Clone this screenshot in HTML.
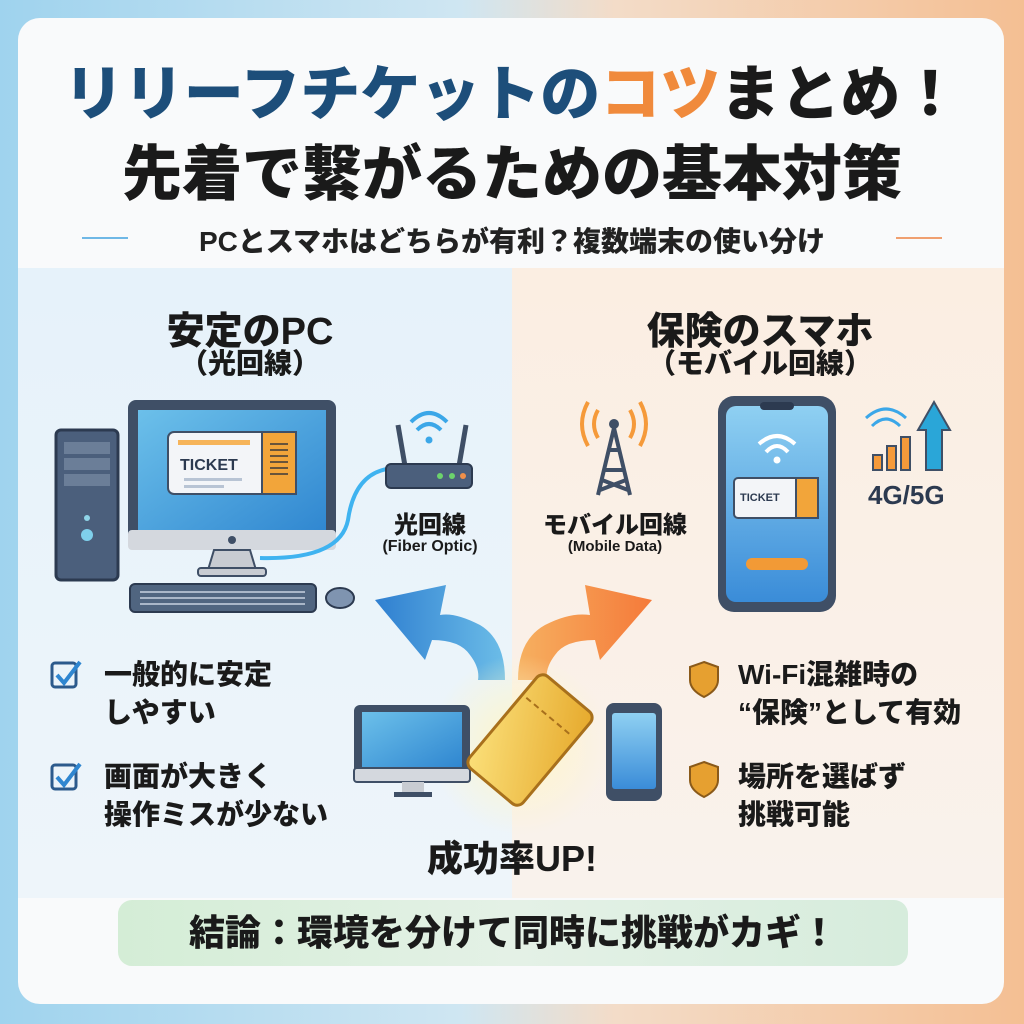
<!DOCTYPE html>
<html><head><meta charset="utf-8"><style>
*{margin:0;padding:0;box-sizing:border-box}
body{width:1024px;height:1024px;overflow:hidden;background:linear-gradient(90deg,#9fd3ee 0%,#cfe6f2 45%,#f3dcc8 60%,#f4bf93 100%);font-family:"Liberation Sans","Noto Sans CJK JP",sans-serif;position:relative}
.card{position:absolute;left:18px;top:18px;width:986px;height:986px;border-radius:22px;background:#f9fafb;overflow:hidden}
.t{position:absolute;font-weight:900;white-space:nowrap;color:#1a1a1a}
.c{text-align:center}
</style></head><body>
<div class="card">
<div style="position:absolute;left:0;top:250px;width:494px;height:630px;background:linear-gradient(180deg,#e6f2fa,#eef5fa)"></div>
<div style="position:absolute;left:494px;top:250px;width:492px;height:630px;background:linear-gradient(180deg,#fbeee2,#f9f2ec)"></div>
</div>
<svg width="1024" height="1024" style="position:absolute;left:0;top:0">
<defs>
<linearGradient id="scr" x1="0" y1="0" x2="1" y2="1"><stop offset="0" stop-color="#6cc0ea"/><stop offset="1" stop-color="#2f86d0"/></linearGradient>
<linearGradient id="ph" x1="0" y1="0" x2="0" y2="1"><stop offset="0" stop-color="#8fd0f2"/><stop offset="1" stop-color="#3a8cd8"/></linearGradient>
<linearGradient id="gold" x1="0" y1="0" x2="1" y2="1"><stop offset="0" stop-color="#fbe07a"/><stop offset="1" stop-color="#e6a92c"/></linearGradient>
<linearGradient id="ba" x1="0" y1="0" x2="1" y2="0"><stop offset="0" stop-color="#2f7fd0"/><stop offset="1" stop-color="#6cbde8"/></linearGradient>
<linearGradient id="oa" x1="0" y1="0" x2="1" y2="0"><stop offset="0" stop-color="#f6b060"/><stop offset="1" stop-color="#f57a3a"/></linearGradient>
<radialGradient id="glow"><stop offset="0" stop-color="#fff6c8"/><stop offset="1" stop-color="#fff6c8" stop-opacity="0"/></radialGradient>
</defs>
<line x1="82" y1="238" x2="128" y2="238" stroke="#6fb8e6" stroke-width="2"/>
<line x1="896" y1="238" x2="942" y2="238" stroke="#f0a070" stroke-width="2"/>
<!-- tower PC -->
<rect x="56" y="430" width="62" height="150" rx="5" fill="#4b5f7c" stroke="#2c3a50" stroke-width="3"/>
<rect x="64" y="442" width="46" height="12" fill="#6b7e98"/><rect x="64" y="458" width="46" height="12" fill="#6b7e98"/><rect x="64" y="474" width="46" height="12" fill="#6b7e98"/>
<circle cx="87" cy="518" r="3" fill="#8fd4e8"/><circle cx="87" cy="535" r="6" fill="#7fd0ec"/>
<!-- monitor -->
<rect x="128" y="400" width="208" height="150" rx="8" fill="#3f4f66"/>
<rect x="138" y="410" width="188" height="126" fill="url(#scr)"/>
<rect x="128" y="530" width="208" height="20" rx="4" fill="#d4d8de"/>
<circle cx="232" cy="540" r="4" fill="#3f4f66"/>
<polygon points="214,550 250,550 256,570 208,570" fill="#c8ccd2" stroke="#3f4f66" stroke-width="2"/>
<rect x="198" y="568" width="68" height="8" rx="3" fill="#c8ccd2" stroke="#3f4f66" stroke-width="2"/>
<rect x="168" y="432" width="128" height="62" rx="6" fill="#f3f5f8" stroke="#3f4f66" stroke-width="2"/>
<rect x="262" y="432" width="34" height="62" fill="#f2a53a" stroke="#3f4f66" stroke-width="2"/>
<rect x="178" y="440" width="72" height="5" fill="#f6b45a"/>
<text x="180" y="470" font-family="Liberation Sans" font-weight="bold" font-size="16" fill="#2c3a50">TICKET</text>
<rect x="184" y="478" width="58" height="3" fill="#b8c4d4"/><rect x="184" y="485" width="40" height="3" fill="#b8c4d4"/>
<g stroke="#3a3a3a" stroke-width="1.5"><line x1="270" y1="444" x2="288" y2="444"/><line x1="270" y1="450" x2="288" y2="450"/><line x1="270" y1="456" x2="288" y2="456"/><line x1="270" y1="462" x2="288" y2="462"/><line x1="270" y1="468" x2="288" y2="468"/><line x1="270" y1="474" x2="288" y2="474"/></g>
<!-- keyboard -->
<rect x="130" y="584" width="186" height="28" rx="5" fill="#506580" stroke="#2c3a50" stroke-width="2"/>
<g stroke="#a9b6c8" stroke-width="2"><line x1="140" y1="592" x2="305" y2="592"/><line x1="140" y1="598" x2="305" y2="598"/><line x1="140" y1="604" x2="305" y2="604"/></g>
<ellipse cx="340" cy="598" rx="14" ry="10" fill="#7f94b0" stroke="#2c3a50" stroke-width="2"/>
<!-- cable -->
<path d="M260 558 Q340 560 348 520 Q355 470 395 468" fill="none" stroke="#3fb3f0" stroke-width="4"/>
<!-- router -->
<line x1="398" y1="425" x2="405" y2="466" stroke="#3f4f66" stroke-width="5"/><line x1="466" y1="425" x2="459" y2="466" stroke="#3f4f66" stroke-width="5"/>
<rect x="386" y="464" width="86" height="24" rx="5" fill="#4b5f7c" stroke="#2c3a50" stroke-width="2"/>
<circle cx="440" cy="476" r="3" fill="#6cd36c"/><circle cx="452" cy="476" r="3" fill="#6cd36c"/><circle cx="463" cy="476" r="3" fill="#f0904a"/>
<g fill="none" stroke="#3ba7e8" stroke-width="4"><path d="M417 430 Q429 418 441 430"/><path d="M411 422 Q429 404 447 422"/></g><circle cx="429" cy="440" r="3.5" fill="#3ba7e8"/>
<!-- cell tower -->
<g stroke="#3f4f66" stroke-width="4" fill="none"><path d="M614 428 L598 495 M614 428 L630 495 M604 470 L624 470 M608 450 L620 450 M602 480 L628 490 M626 480 L600 490"/></g>
<circle cx="614" cy="424" r="5" fill="#3f4f66"/>
<g fill="none" stroke="#f59a3a" stroke-width="4"><path d="M598 410 Q590 424 598 438"/><path d="M588 402 Q576 424 588 446"/><path d="M630 410 Q638 424 630 438"/><path d="M640 402 Q652 424 640 446"/></g>
<!-- phone -->
<rect x="718" y="396" width="118" height="216" rx="16" fill="#3f4f66"/>
<rect x="726" y="406" width="102" height="196" rx="10" fill="url(#ph)"/>
<rect x="760" y="402" width="34" height="8" rx="4" fill="#2c3a50"/>
<g fill="none" stroke="#fff" stroke-width="4"><path d="M766 452 Q777 440 788 452"/><path d="M759 444 Q777 428 795 444"/></g><circle cx="777" cy="460" r="3.5" fill="#fff"/>
<rect x="734" y="478" width="84" height="40" rx="4" fill="#f3f5f8" stroke="#3f4f66" stroke-width="2"/>
<rect x="796" y="478" width="22" height="40" fill="#f2a53a" stroke="#3f4f66" stroke-width="2"/>
<text x="740" y="501" font-family="Liberation Sans" font-weight="bold" font-size="11" fill="#2c3a50">TICKET</text>
<rect x="746" y="558" width="62" height="12" rx="6" fill="#f29a36"/>
<!-- signal bars -->
<rect x="873" y="455" width="9" height="15" fill="#f59a3a" stroke="#3f4f66" stroke-width="2"/>
<rect x="887" y="446" width="9" height="24" fill="#f59a3a" stroke="#3f4f66" stroke-width="2"/>
<rect x="901" y="437" width="9" height="33" fill="#f59a3a" stroke="#3f4f66" stroke-width="2"/>
<polygon points="926,470 926,430 918,430 934,402 950,430 942,430 942,470" fill="#2aa6d8" stroke="#3f4f66" stroke-width="2"/>
<g fill="none" stroke="#3ba7e8" stroke-width="3"><path d="M872 426 Q886 412 900 426"/><path d="M866 418 Q886 400 906 418"/></g>
<!-- arrows -->
<path d="M505 680 Q505 640 480 625 Q455 612 440 615 L446 585 L375 600 L425 660 L432 640 Q460 640 470 655 Q480 668 478 680 Z" fill="url(#ba)"/>
<path d="M518 680 Q518 640 545 625 Q570 612 590 615 L585 585 L652 600 L600 660 L595 640 Q565 640 555 655 Q545 668 547 680 Z" fill="url(#oa)"/>
<!-- center -->
<circle cx="520" cy="745" r="90" fill="url(#glow)"/>
<rect x="354" y="705" width="116" height="72" rx="6" fill="#3f4f66"/><rect x="362" y="712" width="100" height="56" fill="url(#scr)"/>
<rect x="354" y="768" width="116" height="14" rx="3" fill="#d4d8de" stroke="#3f4f66" stroke-width="2"/>
<rect x="402" y="782" width="22" height="10" fill="#c8ccd2"/><rect x="394" y="792" width="38" height="5" fill="#3f4f66"/>
<rect x="606" y="703" width="56" height="98" rx="8" fill="#3f4f66"/><rect x="612" y="713" width="44" height="76" rx="3" fill="url(#ph)"/>
<g transform="rotate(-50 530 740)"><rect x="470" y="705" width="120" height="70" rx="8" fill="url(#gold)" stroke="#a8701c" stroke-width="3"/><line x1="560" y1="710" x2="560" y2="770" stroke="#a8701c" stroke-width="2" stroke-dasharray="6 4"/></g>
<!-- check boxes -->
<g fill="none" stroke="#2c5a8c" stroke-width="3"><rect x="52" y="663" width="24" height="24" rx="3"/><rect x="52" y="765" width="24" height="24" rx="3"/></g>
<g fill="none" stroke="#2f86d0" stroke-width="4"><path d="M57 675 L64 683 L80 662"/><path d="M57 777 L64 785 L80 764"/></g>
<g fill="#e6a030" stroke="#8a5a1a" stroke-width="2"><path d="M704 662 L718 667 L718 680 Q718 690 704 697 Q690 690 690 680 L690 667 Z"/><path d="M704 762 L718 767 L718 780 Q718 790 704 797 Q690 790 690 780 L690 767 Z"/></g>
</svg>
<div class="t" style="left:0;width:1024px;top:46px;font-size:60px;text-align:center;color:#1d4e7a">リリーフチケットの<span style="color:#f08a3c">コツ</span><span style="color:#1a1a1a">まとめ！</span></div>
<div class="t" style="left:0;width:1024px;top:126px;font-size:60px;text-align:center">先着で繋がるための基本対策</div>
<div class="t" style="left:0;width:1024px;top:220px;font-size:28px;text-align:center;color:#222">PCとスマホはどちらが有利？複数端末の使い分け</div>
<div class="t c" style="left:60px;width:380px;top:300px;font-size:38px">安定のPC</div>
<div class="t c" style="left:60px;width:380px;top:342px;font-size:28px">（光回線）</div>
<div class="t c" style="left:570px;width:380px;top:300px;font-size:38px">保険のスマホ</div>
<div class="t c" style="left:570px;width:380px;top:342px;font-size:28px">（モバイル回線）</div>
<div class="t c" style="left:360px;width:140px;top:505px;font-size:24px">光回線</div>
<div class="t c" style="left:360px;width:140px;top:538px;font-size:16px;font-weight:bold">(Fiber Optic)</div>
<div class="t c" style="left:540px;width:150px;top:505px;font-size:24px">モバイル回線</div>
<div class="t c" style="left:540px;width:150px;top:538px;font-size:15px;font-weight:bold">(Mobile Data)</div>
<div class="t" style="left:868px;top:480px;font-size:26px;color:#2c3a50">4G/5G</div>
<div class="t" style="left:104px;top:656px;font-size:28px;line-height:38px">一般的に安定<br>しやすい</div>
<div class="t" style="left:104px;top:758px;font-size:28px;line-height:38px">画面が大きく<br>操作ミスが少ない</div>
<div class="t" style="left:738px;top:656px;font-size:28px;line-height:38px">Wi-Fi混雑時の<br>“保険”として有効</div>
<div class="t" style="left:738px;top:758px;font-size:28px;line-height:38px">場所を選ばず<br>挑戦可能</div>
<div class="t c" style="left:362px;width:300px;top:830px;font-size:36px">成功率UP!</div>
<div style="position:absolute;left:118px;top:900px;width:790px;height:66px;border-radius:14px;background:linear-gradient(90deg,#d4edd6,#e4f1e6,#d6ecdc)"></div>
<div class="t c" style="left:118px;width:790px;top:910px;font-size:36px;line-height:46px">結論：環境を分けて同時に挑戦がカギ！</div>
</body></html>
